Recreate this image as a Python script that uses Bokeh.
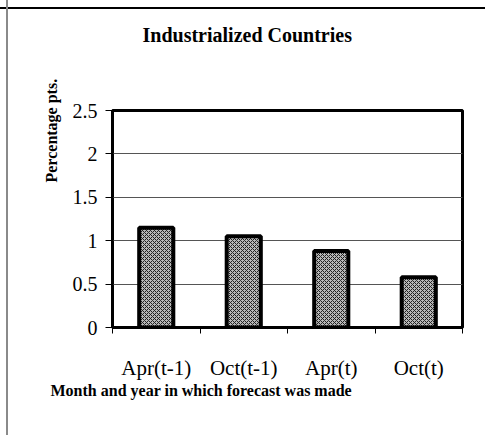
from bokeh.plotting import figure
from bokeh.models import FixedTicker, Title, ColumnDataSource
from bokeh.embed import file_html
from bokeh.resources import INLINE

categories = ["Apr(t-1)", "Oct(t-1)", "Apr(t)", "Oct(t)"]
values = [1.15, 1.05, 0.88, 0.58]
y_ticks = [0, 0.5, 1, 1.5, 2, 2.5]
y_tick_labels = ["0", "0.5", "1", "1.5", "2", "2.5"]
title_text = "Industrialized Countries"
y_label = "Percentage pts."
x_label = "Month and year in which forecast was made"

positions = list(range(1, len(categories) + 1))
source = ColumnDataSource(dict(x=positions, top=values))

serif = "Liberation Serif"

p = figure(width=485, height=435, output_backend="svg", toolbar_location=None,
           x_range=(0.5, len(categories) + 0.5), y_range=(0, 2.5),
           min_border_left=112, min_border_right=23, min_border_top=110, min_border_bottom=108)
p.border_fill_color = None
p.background_fill_color = "white"
p.styles = {"background": "linear-gradient(to right, transparent 6px, #8a8a8a 6px, #8a8a8a 8px, transparent 8px), "
                          "linear-gradient(to bottom, transparent 7px, #000000 7px, #000000 9px, transparent 9px), white"}
p.outline_line_color = "black"
p.outline_line_width = 3

p.vbar(x="x", top="top", width=0.39, bottom=0, source=source,
       fill_color="#b8b8b8", line_color="black", line_width=4,
       hatch_pattern="diagonal_cross", hatch_color="#222222", hatch_scale=4, hatch_weight=1)

# title (outermost in the above panel)
p.title.text = title_text
p.title.align = "left"
p.title.offset = 30
p.title.standoff = 0
p.title.text_font = serif
p.title.text_font_style = "bold"
p.title.text_font_size = "20px"
p.title.text_color = "black"
# spacer between title and frame
p.add_layout(Title(text=" ", text_font_size="1px", standoff=62), "above")

# x axis
p.xaxis.ticker = FixedTicker(ticks=positions, minor_ticks=[i + 0.5 for i in range(0, len(categories) + 1)])
p.xaxis.major_label_overrides = {pos: c for pos, c in zip(positions, categories)}
p.xaxis.major_tick_out = 0
p.xaxis.major_tick_in = 0
p.xaxis.minor_tick_out = 6
p.xaxis.minor_tick_in = 0
p.xaxis.major_label_standoff = 22
p.xaxis.major_label_text_font = serif
p.xaxis.major_label_text_font_size = "21px"
p.xaxis.major_label_text_color = "black"
p.xaxis.axis_line_color = "black"
p.xaxis.axis_line_width = 2

# y axis
p.yaxis.ticker = FixedTicker(ticks=y_ticks, minor_ticks=[])
p.yaxis.major_label_overrides = {t: l for t, l in zip(y_ticks, y_tick_labels)}
p.yaxis.major_tick_out = 7
p.yaxis.major_tick_in = 0
p.yaxis.minor_tick_out = 0
p.yaxis.major_label_standoff = 8
p.yaxis.major_label_text_font = serif
p.yaxis.major_label_text_font_size = "20px"
p.yaxis.major_label_text_color = "black"
p.yaxis.axis_line_color = "black"
p.yaxis.axis_line_width = 2

p.xgrid.grid_line_color = None
p.ygrid.grid_line_color = "#555555"
p.ygrid.grid_line_width = 1

p.add_layout(Title(text=x_label, align="left", offset=-62, standoff=-5,
                   text_font=serif, text_font_style="bold", text_font_size="16px",
                   text_color="black"), "below")
p.add_layout(Title(text=" ", text_font_size="1px", standoff=7), "left")
p.add_layout(Title(text=y_label, align="left", offset=145, standoff=0,
                   text_font=serif, text_font_style="bold", text_font_size="16px",
                   text_color="black"), "left")

open("out.html", "w").write(file_html(p, INLINE))
